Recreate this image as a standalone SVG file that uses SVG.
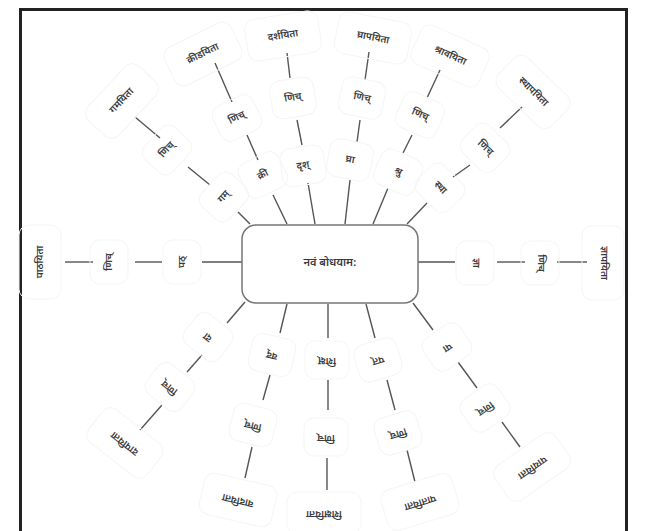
<svg xmlns="http://www.w3.org/2000/svg" width="658" height="531" viewBox="0 0 658 531">
<style>
.lbl{font-family:"Noto Sans Devanagari","Noto Sans","Lohit Devanagari",sans-serif;font-size:10px;font-weight:600;fill:#3a3a3a;text-anchor:middle;dominant-baseline:central}
.ctr{font-size:11px}
.fb{fill:none;stroke:#f5f5f5;stroke-width:1}
.cn line{stroke:#555;stroke-width:1.4}
</style>
<rect width="658" height="531" fill="#fff"/>
<rect x="20.5" y="9.5" width="606" height="540" fill="none" stroke="#222" stroke-width="3"/>
<g class="cn" id="connectors">
<line x1="250" y1="224" x2="238" y2="212"/><line x1="210" y1="185" x2="188" y2="167"/><line x1="160" y1="138" x2="135" y2="117"/>
<line x1="287" y1="224" x2="273" y2="195"/><line x1="258" y1="160" x2="247" y2="135"/><line x1="232" y1="102" x2="215" y2="63"/>
<line x1="315" y1="224" x2="308" y2="183"/><line x1="302" y1="145" x2="297" y2="120"/><line x1="290" y1="78" x2="287" y2="53"/>
<line x1="345" y1="224" x2="350" y2="180"/><line x1="357" y1="142" x2="360" y2="120"/><line x1="365" y1="80" x2="369" y2="52"/>
<line x1="373" y1="224" x2="388" y2="188"/><line x1="403" y1="153" x2="412" y2="135"/><line x1="427" y1="98" x2="440" y2="70"/>
<line x1="407" y1="224" x2="427" y2="203"/><line x1="453" y1="177" x2="470" y2="165"/><line x1="500" y1="128" x2="522" y2="107"/>
<line x1="242" y1="262" x2="202" y2="262"/><line x1="162" y1="262" x2="135" y2="262"/><line x1="93" y1="262" x2="65" y2="262"/>
<line x1="418" y1="262" x2="455" y2="262"/><line x1="497" y1="262" x2="525" y2="262"/><line x1="557" y1="262" x2="587" y2="262"/>
<line x1="245" y1="302" x2="227" y2="323"/><line x1="202" y1="355" x2="187" y2="372"/><line x1="162" y1="405" x2="140" y2="430"/>
<line x1="287" y1="304" x2="280" y2="333"/><line x1="270" y1="375" x2="263" y2="400"/><line x1="252" y1="447" x2="245" y2="478"/>
<line x1="328" y1="304" x2="328" y2="338"/><line x1="328" y1="380" x2="328" y2="410"/><line x1="327" y1="458" x2="327" y2="490"/>
<line x1="366" y1="304" x2="375" y2="338"/><line x1="387" y1="380" x2="395" y2="410"/><line x1="407" y1="450" x2="415" y2="482"/>
<line x1="413" y1="303" x2="433" y2="330"/><line x1="458" y1="362" x2="477" y2="388"/><line x1="502" y1="422" x2="520" y2="447"/>
</g>
<g id="center">
<rect x="242" y="225" width="176" height="78" rx="14" fill="#fff" stroke="#777" stroke-width="1.5"/>
<text class="lbl ctr" x="330" y="263">नवं बोधयाम:</text>
</g>
<g id="n-gam" transform="translate(224,197) rotate(-47)"><rect class="fb" x="-22" y="-19" width="44" height="38" rx="10"/><text class="lbl">गम्</text></g>
<g id="n-gam-nic" transform="translate(167,150) rotate(-47)"><rect class="fb" x="-22" y="-19" width="44" height="38" rx="10"/><text class="lbl">णिच्</text></g>
<g id="n-gam-out" transform="translate(122,101) rotate(-47)"><rect class="fb" x="-37" y="-21" width="74" height="42" rx="10"/><text class="lbl">गमयिता</text></g>
<g id="n-kri" transform="translate(263,175) rotate(-26)"><rect class="fb" x="-22" y="-19" width="44" height="38" rx="10"/><text class="lbl">क्री</text></g>
<g id="n-kri-nic" transform="translate(237,118) rotate(-26)"><rect class="fb" x="-22" y="-19" width="44" height="38" rx="10"/><text class="lbl">णिच्</text></g>
<g id="n-kri-out" transform="translate(203,54) rotate(-26)"><rect class="fb" x="-37" y="-21" width="74" height="42" rx="10"/><text class="lbl">क्रीडयिता</text></g>
<g id="n-drs" transform="translate(303,166) rotate(-9)"><rect class="fb" x="-22" y="-19" width="44" height="38" rx="10"/><text class="lbl">दृश्</text></g>
<g id="n-drs-nic" transform="translate(293,98) rotate(-9)"><rect class="fb" x="-22" y="-19" width="44" height="38" rx="10"/><text class="lbl">णिच्</text></g>
<g id="n-drs-out" transform="translate(283,36) rotate(-9)"><rect class="fb" x="-37" y="-21" width="74" height="42" rx="10"/><text class="lbl">दर्शयिता</text></g>
<g id="n-ghra" transform="translate(350,160) rotate(11)"><rect class="fb" x="-22" y="-19" width="44" height="38" rx="10"/><text class="lbl">घ्रा</text></g>
<g id="n-ghra-nic" transform="translate(362,98) rotate(11)"><rect class="fb" x="-22" y="-19" width="44" height="38" rx="10"/><text class="lbl">णिच्</text></g>
<g id="n-ghra-out" transform="translate(373,38) rotate(11)"><rect class="fb" x="-37" y="-21" width="74" height="42" rx="10"/><text class="lbl">घ्रापयिता</text></g>
<g id="n-sru" transform="translate(398,172) rotate(24)"><rect class="fb" x="-22" y="-19" width="44" height="38" rx="10"/><text class="lbl">श्रु</text></g>
<g id="n-sru-nic" transform="translate(420,115) rotate(24)"><rect class="fb" x="-22" y="-19" width="44" height="38" rx="10"/><text class="lbl">णिच्</text></g>
<g id="n-sru-out" transform="translate(450,56) rotate(24)"><rect class="fb" x="-37" y="-21" width="74" height="42" rx="10"/><text class="lbl">श्रावयिता</text></g>
<g id="n-stha" transform="translate(440,188) rotate(44)"><rect class="fb" x="-22" y="-19" width="44" height="38" rx="10"/><text class="lbl">स्था</text></g>
<g id="n-stha-nic" transform="translate(485,148) rotate(44)"><rect class="fb" x="-22" y="-19" width="44" height="38" rx="10"/><text class="lbl">णिच्</text></g>
<g id="n-stha-out" transform="translate(533,92) rotate(44)"><rect class="fb" x="-37" y="-21" width="74" height="42" rx="10"/><text class="lbl">स्थापयिता</text></g>
<g id="n-path" transform="translate(182,262) rotate(-90)"><rect class="fb" x="-22" y="-19" width="44" height="38" rx="10"/><text class="lbl">पठ्</text></g>
<g id="n-path-nic" transform="translate(109,262) rotate(-90)"><rect class="fb" x="-22" y="-19" width="44" height="38" rx="10"/><text class="lbl">णिच्</text></g>
<g id="n-path-out" transform="translate(40,262) rotate(-90)"><rect class="fb" x="-37" y="-21" width="74" height="42" rx="10"/><text class="lbl">पाठयिता</text></g>
<g id="n-jna" transform="translate(475,263) rotate(90)"><rect class="fb" x="-22" y="-19" width="44" height="38" rx="10"/><text class="lbl">ज्ञा</text></g>
<g id="n-jna-nic" transform="translate(540,263) rotate(90)"><rect class="fb" x="-22" y="-19" width="44" height="38" rx="10"/><text class="lbl">णिच्</text></g>
<g id="n-jna-out" transform="translate(603,263) rotate(90)"><rect class="fb" x="-37" y="-21" width="74" height="42" rx="10"/><text class="lbl">ज्ञापयिता</text></g>
<g id="n-da" transform="translate(208,337) rotate(-142)"><rect class="fb" x="-22" y="-19" width="44" height="38" rx="10"/><text class="lbl">दा</text></g>
<g id="n-da-nic" transform="translate(170,387) rotate(-142)"><rect class="fb" x="-22" y="-19" width="44" height="38" rx="10"/><text class="lbl">णिच्</text></g>
<g id="n-da-out" transform="translate(125,443) rotate(-142)"><rect class="fb" x="-37" y="-21" width="74" height="42" rx="10"/><text class="lbl">दापयिता</text></g>
<g id="n-vad" transform="translate(272,355) rotate(-167)"><rect class="fb" x="-22" y="-19" width="44" height="38" rx="10"/><text class="lbl">वद्</text></g>
<g id="n-vad-nic" transform="translate(253,425) rotate(-167)"><rect class="fb" x="-22" y="-19" width="44" height="38" rx="10"/><text class="lbl">णिच्</text></g>
<g id="n-vad-out" transform="translate(238,500) rotate(-167)"><rect class="fb" x="-37" y="-21" width="74" height="42" rx="10"/><text class="lbl">वादयिता</text></g>
<g id="n-siks" transform="translate(327,360) rotate(180)"><rect class="fb" x="-22" y="-19" width="44" height="38" rx="10"/><text class="lbl">शिक्ष्</text></g>
<g id="n-siks-nic" transform="translate(326,437) rotate(180)"><rect class="fb" x="-22" y="-19" width="44" height="38" rx="10"/><text class="lbl">णिच्</text></g>
<g id="n-siks-out" transform="translate(324,513) rotate(180)"><rect class="fb" x="-37" y="-21" width="74" height="42" rx="10"/><text class="lbl">शिक्षयिता</text></g>
<g id="n-pat" transform="translate(378,360) rotate(163)"><rect class="fb" x="-22" y="-19" width="44" height="38" rx="10"/><text class="lbl">पत्</text></g>
<g id="n-pat-nic" transform="translate(398,433) rotate(163)"><rect class="fb" x="-22" y="-19" width="44" height="38" rx="10"/><text class="lbl">णिच्</text></g>
<g id="n-pat-out" transform="translate(420,502) rotate(163)"><rect class="fb" x="-37" y="-21" width="74" height="42" rx="10"/><text class="lbl">पातयिता</text></g>
<g id="n-pa" transform="translate(447,347) rotate(145)"><rect class="fb" x="-22" y="-19" width="44" height="38" rx="10"/><text class="lbl">पा</text></g>
<g id="n-pa-nic" transform="translate(485,408) rotate(145)"><rect class="fb" x="-22" y="-19" width="44" height="38" rx="10"/><text class="lbl">णिच्</text></g>
<g id="n-pa-out" transform="translate(532,467) rotate(145)"><rect class="fb" x="-37" y="-21" width="74" height="42" rx="10"/><text class="lbl">पाययिता</text></g>
</svg>
